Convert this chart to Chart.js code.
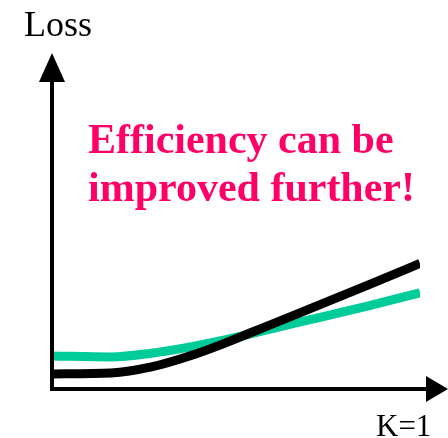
<!DOCTYPE html>
<html>
<head>
<meta charset="utf-8">
<script src="https://cdn.jsdelivr.net/npm/chart.js@4/dist/chart.umd.min.js"></script>
<style>
  html, body { margin: 0; padding: 0; background: #ffffff; }
  #wrap { width: 448px; height: 438px; }
</style>
</head>
<body>
<div id="wrap"><canvas id="c" width="448" height="438"></canvas></div>
<script>
// Values (abstract units, 0-100 on both axes)
const kValues     = [0, 16, 27, 38, 46, 55, 66, 80, 86, 100];
const tealLoss    = [9.9, 9.6, 10.7, 12.7, 14.5, 16.8, 19.7, 23.3, 24.9, 28.8];
const blackLoss   = [4.5, 4.8, 6.6, 10.1, 13.3, 17.3, 22.2, 28.5, 31.2, 37.6];
const yAxisLabel  = "Loss";
const xAxisLabel  = "K=1";
const messageLines = ["Efficiency can be", "improved further!"];

const toPoints = (ys) => kValues.map((x, i) => ({ x: x, y: ys[i] }));

const decor = {
  id: 'decor',
  afterDatasetsDraw(chart) {
    const ctx = chart.ctx;
    const xs = chart.scales.x, ys = chart.scales.y;
    const x0 = xs.getPixelForValue(0);
    const y0 = ys.getPixelForValue(0);
    const ca = chart.chartArea;
    ctx.save();
    ctx.strokeStyle = '#000';
    ctx.fillStyle = '#000';
    ctx.lineWidth = 4;
    // y axis
    ctx.beginPath();
    ctx.moveTo(x0, y0 + 2);
    ctx.lineTo(x0, ca.top + 25);
    ctx.stroke();
    ctx.beginPath();
    ctx.moveTo(x0, ca.top - 2);
    ctx.lineTo(x0 - 13, ca.top + 27);
    ctx.lineTo(x0 + 13, ca.top + 27);
    ctx.closePath();
    ctx.fill();
    // x axis
    ctx.beginPath();
    ctx.moveTo(x0 - 2, y0);
    ctx.lineTo(ca.right + 8, y0);
    ctx.stroke();
    ctx.beginPath();
    ctx.moveTo(ca.right + 28, y0);
    ctx.lineTo(ca.right + 6, y0 - 13);
    ctx.lineTo(ca.right + 6, y0 + 13);
    ctx.closePath();
    ctx.fill();
    // labels
    ctx.textBaseline = 'alphabetic';
    ctx.textAlign = 'left';
    ctx.font = '36px "Liberation Serif", "Times New Roman", serif';
    ctx.fillText(yAxisLabel, 24, 36);
    ctx.font = '31px "Liberation Serif", "Times New Roman", serif';
    ctx.fillText(xAxisLabel, 376, 436);
    ctx.fillStyle = '#ff0066';
    ctx.font = 'bold 42px "Liberation Serif", "Times New Roman", serif';
    ctx.fillText(messageLines[0], 88, 153);
    ctx.fillText(messageLines[1], 88, 201);
    ctx.restore();
  }
};

new Chart(document.getElementById('c'), {
  type: 'line',
  data: {
    datasets: [
      { label: 'black', data: toPoints(blackLoss), borderColor: '#000000', borderWidth: 9,
        pointRadius: 0, cubicInterpolationMode: 'monotone', fill: false },
      { label: 'teal', data: toPoints(tealLoss), borderColor: '#00cc99', borderWidth: 9,
        pointRadius: 0, cubicInterpolationMode: 'monotone', fill: false }
    ]
  },
  options: {
    responsive: false,
    animation: false,
    layout: { padding: { left: 52, right: 28, top: 55, bottom: 49 } },
    plugins: { legend: { display: false }, tooltip: { enabled: false }, title: { display: false } },
    scales: {
      x: { type: 'linear', min: 0, max: 100, display: false },
      y: { type: 'linear', min: 0, max: 100, display: false }
    }
  },
  plugins: [decor]
});
</script>
</body>
</html>
